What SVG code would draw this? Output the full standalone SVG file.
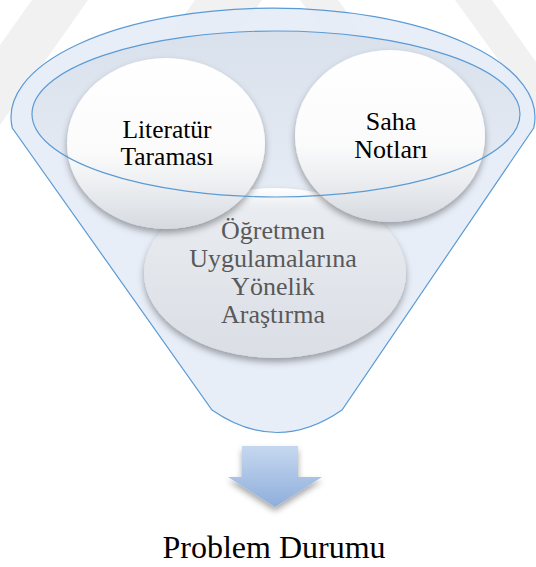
<svg xmlns="http://www.w3.org/2000/svg" width="536" height="567" viewBox="0 0 536 567">
<style>
.wm{fill:#f1f1f1}
.rim{fill:none;stroke:#5b9bd5;stroke-width:1.2}
</style>
<defs>
<linearGradient id="gCircle" x1="0" y1="0" x2="0" y2="1">
<stop offset="0" stop-color="#ffffff"/>
<stop offset="0.55" stop-color="#fbfbfb"/>
<stop offset="0.75" stop-color="#eceef1"/>
<stop offset="1" stop-color="#d6dae0"/>
</linearGradient>
<linearGradient id="gThird" x1="0" y1="0" x2="0" y2="1">
<stop offset="0" stop-color="#ffffff"/>
<stop offset="0.12" stop-color="#e9ecf0"/>
<stop offset="1" stop-color="#dadee5"/>
</linearGradient>
<linearGradient id="gInner" x1="0" y1="0" x2="0" y2="1">
<stop offset="0" stop-color="#d9e1ec"/>
<stop offset="1" stop-color="#e6ecf5"/>
</linearGradient>
<linearGradient id="gArrow" x1="0" y1="0" x2="0" y2="1">
<stop offset="0" stop-color="#c6d8f0"/>
<stop offset="1" stop-color="#8eaedb"/>
</linearGradient>
<filter id="shadow" x="-20%" y="-20%" width="140%" height="150%">
<feDropShadow dx="0" dy="4" stdDeviation="3.5" flood-color="#000" flood-opacity="0.35"/>
</filter>
<filter id="ashadow" x="-30%" y="-30%" width="160%" height="170%">
<feDropShadow dx="0" dy="4" stdDeviation="3" flood-color="#000" flood-opacity="0.35"/>
</filter>
</defs>
<rect width="536" height="567" fill="#ffffff"/>
<g id="watermark">
<polygon class="wm" points="32,0 88,0 0,125 0,45"/>
<polygon class="wm" points="195,0 262,0 170,130 103,130"/>
<polygon class="wm" points="300,0 338,0 440,140 402,140"/>
<polygon class="wm" points="455,0 492,0 536,62 536,112"/>
</g>
<g id="funnel">
<path d="M12.3,128 A262,109 0 1 1 533.7,128 L342,410 Q277,455 212,410 Z" fill="#e6edf7" fill-opacity="0.92" stroke="#5b9bd5" stroke-width="1.2"/>
<ellipse cx="276" cy="114" rx="244" ry="83" fill="url(#gInner)"/>
</g>
<g id="node-ogretmen" font-family="Liberation Serif, Times New Roman, serif" font-size="26" text-anchor="middle" fill="#595959">
<ellipse cx="275" cy="273" rx="131" ry="85" fill="url(#gThird)" filter="url(#shadow)"/>
<text x="273" y="239">Öğretmen</text>
<text x="273" y="267">Uygulamalarına</text>
<text x="273" y="295">Yönelik</text>
<text x="273" y="323">Araştırma</text>
</g>
<g id="node-literatur" font-family="Liberation Serif, Times New Roman, serif" font-size="25.5" text-anchor="middle" fill="#000000">
<ellipse cx="166" cy="143.5" rx="99" ry="85.5" fill="url(#gCircle)" filter="url(#shadow)"/>
<text x="167" y="138">Literatür</text>
<text x="167" y="165">Taraması</text>
</g>
<g id="node-saha" font-family="Liberation Serif, Times New Roman, serif" font-size="26" text-anchor="middle" fill="#000000">
<ellipse cx="390" cy="136" rx="95" ry="86" fill="url(#gCircle)" filter="url(#shadow)"/>
<text x="391" y="130">Saha</text>
<text x="391" y="158">Notları</text>
</g>
<g id="funnel-rim">
<ellipse class="rim" cx="276" cy="114" rx="244" ry="83"/>
</g>
<g id="connectors">
<polygon points="242,446 298,446 298,477 322,477 275,507 228,477 242,477" fill="url(#gArrow)" filter="url(#ashadow)"/>
</g>
<g id="node-problem">
<text x="274" y="558" font-family="Liberation Serif, Times New Roman, serif" font-size="32" text-anchor="middle" fill="#000000">Problem Durumu</text>
</g>
</svg>
